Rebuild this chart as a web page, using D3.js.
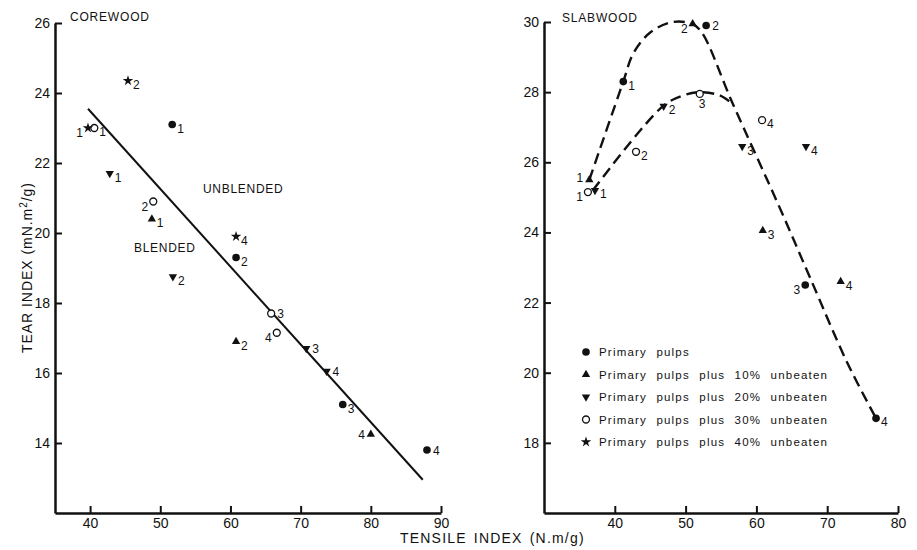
<!DOCTYPE html>
<html><head><meta charset="utf-8">
<script src="https://cdn.jsdelivr.net/npm/d3@7"></script>
<style>
body{margin:0;background:#fff;}
text{font-family:"Liberation Sans",Arial,sans-serif;fill:#111;}
</style></head>
<body><svg id="c" width="917" height="550"></svg>
<script>
// ---------- DATA ----------
const legendLabels = ["Primary pulps","Primary pulps plus 10% unbeaten","Primary pulps plus 20% unbeaten","Primary pulps plus 30% unbeaten","Primary pulps plus 40% unbeaten"];
const seriesKeys = ["primary","p10","p20","p30","p40"];

// Corewood: [tensile, tear, label]
const corePrimary = [[51.7,23.1,"1"],[60.8,19.3,"2"],[76.0,15.1,"3"],[88.0,13.8,"4"]];
const coreP10 = [[48.8,20.4,"1"],[60.8,16.9,"2"],[80.0,14.25,"4"]];
const coreP20 = [[42.8,21.7,"1"],[51.8,18.75,"2"],[70.8,16.7,"3"],[73.7,16.05,"4"]];
const coreP30 = [[40.6,23.0,"1"],[49.0,20.9,"2"],[65.8,17.7,"3"],[66.6,17.15,"4"]];
const coreP40 = [[39.7,23.0,"1"],[45.4,24.35,"2"],[60.8,19.9,"4"]];
const coreLabelSide = {primary:["r","r","r","rr"],p10:["r","r","lv"],p20:["r","r","rr","rr"],p30:["r","l","rr","l"],p40:["l","r","r"]};
const coreFit = [[39.7,23.55],[87.4,12.95]];

// Slabwood
const slabPrimary = [[41.2,28.3,"1"],[52.9,29.9,"2"],[66.9,22.5,"3"],[76.9,18.7,"4"]];
const slabP10 = [[36.4,25.5,"1"],[51.0,29.95,"2"],[60.9,24.05,"3"],[71.9,22.6,"4"]];
const slabP20 = [[37.2,25.2,"1"],[46.9,27.6,"2"],[58.0,26.45,"3"],[67.0,26.45,"4"]];
const slabP30 = [[36.2,25.15,"1"],[43.0,26.3,"2"],[52.0,27.95,"3"],[60.8,27.2,"4"]];
const slabP40 = [];
const slabLabelSide = {primary:["r","rr","l","r"],p10:["lu","l","r","r"],p20:["r","r","r","r"],p30:["l","r","b","r"],p40:[]};
const slabUpperCurve = [[36.4,25.5],[41.2,28.3],[42.6,29.1],[45.0,29.7],[48.2,30.0],[51.0,29.94],[52.3,29.7],[56.6,27.7],[63.3,24.7],[67.6,22.7],[72.8,20.3],[76.9,18.7]];
const slabLowerCurve = [[36.9,25.2],[46.8,27.6],[49.6,27.9],[52.0,28.0],[54.9,27.9],[56.7,27.65]];

const coreXTicks=[40,50,60,70,80,90], coreYTicks=[14,16,18,20,22,24,26];
const slabXTicks=[40,50,60,70,80], slabYTicks=[18,20,22,24,26,28,30];

// ---------- DRAW ----------
const svg = d3.select("#c");
svg.append("rect").attr("width",917).attr("height",550).attr("fill","#fff");

const sym = {
  primary: d3.symbol().type(d3.symbolCircle).size(46),
  p10: d3.symbol().type(d3.symbolTriangle).size(30),
  p20: d3.symbol().type(d3.symbolTriangle).size(30),
  p30: d3.symbol().type(d3.symbolCircle).size(38),
  p40: d3.symbol().type(d3.symbolStar).size(34)
};
function drawSym(g, key, x, y){
  const p = g.append("path").attr("d", sym[key]())
    .attr("transform", `translate(${x},${y})` + (key==="p20"?" rotate(180)":""));
  if(key==="p30") p.attr("fill","#fff").attr("stroke","#111").attr("stroke-width",1.3);
  else p.attr("fill","#111");
}
const offs = {r:[5,8], rr:[6,4.5], l:[-5,9], lv:[-6,4.5], lu:[-6,2], b:[-1,14]};

function panel(opt){
  const x = d3.scaleLinear().domain(opt.xd).range(opt.xr);
  const y = d3.scaleLinear().domain(opt.yd).range(opt.yr);
  const g = svg.append("g");
  const ax = g.append("g").attr("transform",`translate(0,${opt.yr[0]})`)
    .call(d3.axisBottom(x).tickValues(opt.xt).tickSizeInner(-7).tickSizeOuter(0).tickPadding(5));
  const ay = g.append("g").attr("transform",`translate(${opt.xr[0]},0)`)
    .call(d3.axisLeft(y).tickValues(opt.yt).tickSizeInner(-7).tickSizeOuter(0).tickPadding(5));
  [ax,ay].forEach(a=>{
    a.select(".domain").attr("stroke","#111").attr("stroke-width",2.5);
    a.selectAll(".tick line").attr("stroke","#111").attr("stroke-width",2);
    a.selectAll(".tick text").attr("font-size",14).attr("font-family","Liberation Sans, Arial, sans-serif").attr("fill","#111");
  });
  opt.draw(g,x,y);
  opt.sets.forEach((s,i)=>{
    const key = seriesKeys[i];
    s.forEach((d,j)=>{
      const px=x(d[0]), py=y(d[1]);
      drawSym(g,key,px,py);
      const side = opt.sides[key][j]; const o = offs[side];
      g.append("text").attr("x",px+o[0]).attr("y",py+o[1])
        .attr("text-anchor", side[0]==="l"?"end":"start")
        .attr("font-size",12).text(d[2]);
    });
  });
  return {x,y,g};
}

panel({xd:[35,90],xr:[55,441],yd:[12,26],yr:[513,23],xt:coreXTicks,yt:coreYTicks,
  sets:[corePrimary,coreP10,coreP20,coreP30,coreP40], sides:coreLabelSide,
  draw:(g,x,y)=>{
    g.append("path").attr("d",d3.line().x(d=>x(d[0])).y(d=>y(d[1]))(coreFit))
      .attr("stroke","#111").attr("stroke-width",2).attr("fill","none");
    g.append("text").attr("x",70).attr("y",21).attr("font-size",12).attr("letter-spacing",0.8).text("COREWOOD");
    g.append("text").attr("x",203).attr("y",193).attr("font-size",12).attr("letter-spacing",0.7).text("UNBLENDED");
    g.append("text").attr("x",134).attr("y",252).attr("font-size",12).attr("letter-spacing",0.7).text("BLENDED");
  }});

panel({xd:[30,80],xr:[544,898],yd:[16,30],yr:[513,22],xt:slabXTicks,yt:slabYTicks,
  sets:[slabPrimary,slabP10,slabP20,slabP30,slabP40], sides:slabLabelSide,
  draw:(g,x,y)=>{
    const ln = d3.line().x(d=>x(d[0])).y(d=>y(d[1])).curve(d3.curveCatmullRom.alpha(0.5));
    [slabUpperCurve,slabLowerCurve].forEach(c=>{
      g.append("path").attr("d",ln(c)).attr("fill","none").attr("stroke","#111")
        .attr("stroke-width",2.4).attr("stroke-dasharray","11,6");
    });
    g.append("text").attr("x",562).attr("y",22).attr("font-size",12).attr("letter-spacing",0.8).text("SLABWOOD");
  }});

// Legend
const lg = svg.append("g");
legendLabels.forEach((t,i)=>{
  const yy = 352 + i*22.5;
  drawSym(lg, seriesKeys[i], 586, yy);
  lg.append("text").attr("x",599).attr("y",yy+4).attr("font-size",11.5)
    .attr("letter-spacing",1.2).attr("word-spacing",5).text(t);
});

// axis titles
svg.append("text").attr("x",400).attr("y",543).attr("font-size",14).attr("letter-spacing",1.2)
  .attr("word-spacing",2).text("TENSILE INDEX (N.m/g)");
const yl = svg.append("text").attr("transform","translate(32,268) rotate(-90)")
  .attr("text-anchor","middle").attr("font-size",14)
  .attr("textLength",170).attr("lengthAdjust","spacing");
yl.append("tspan").text("TEAR INDEX (mN.m");
yl.append("tspan").attr("dy",-5).attr("font-size",10).text("2");
yl.append("tspan").attr("dy",5).text("/g)");
</script></body></html>
